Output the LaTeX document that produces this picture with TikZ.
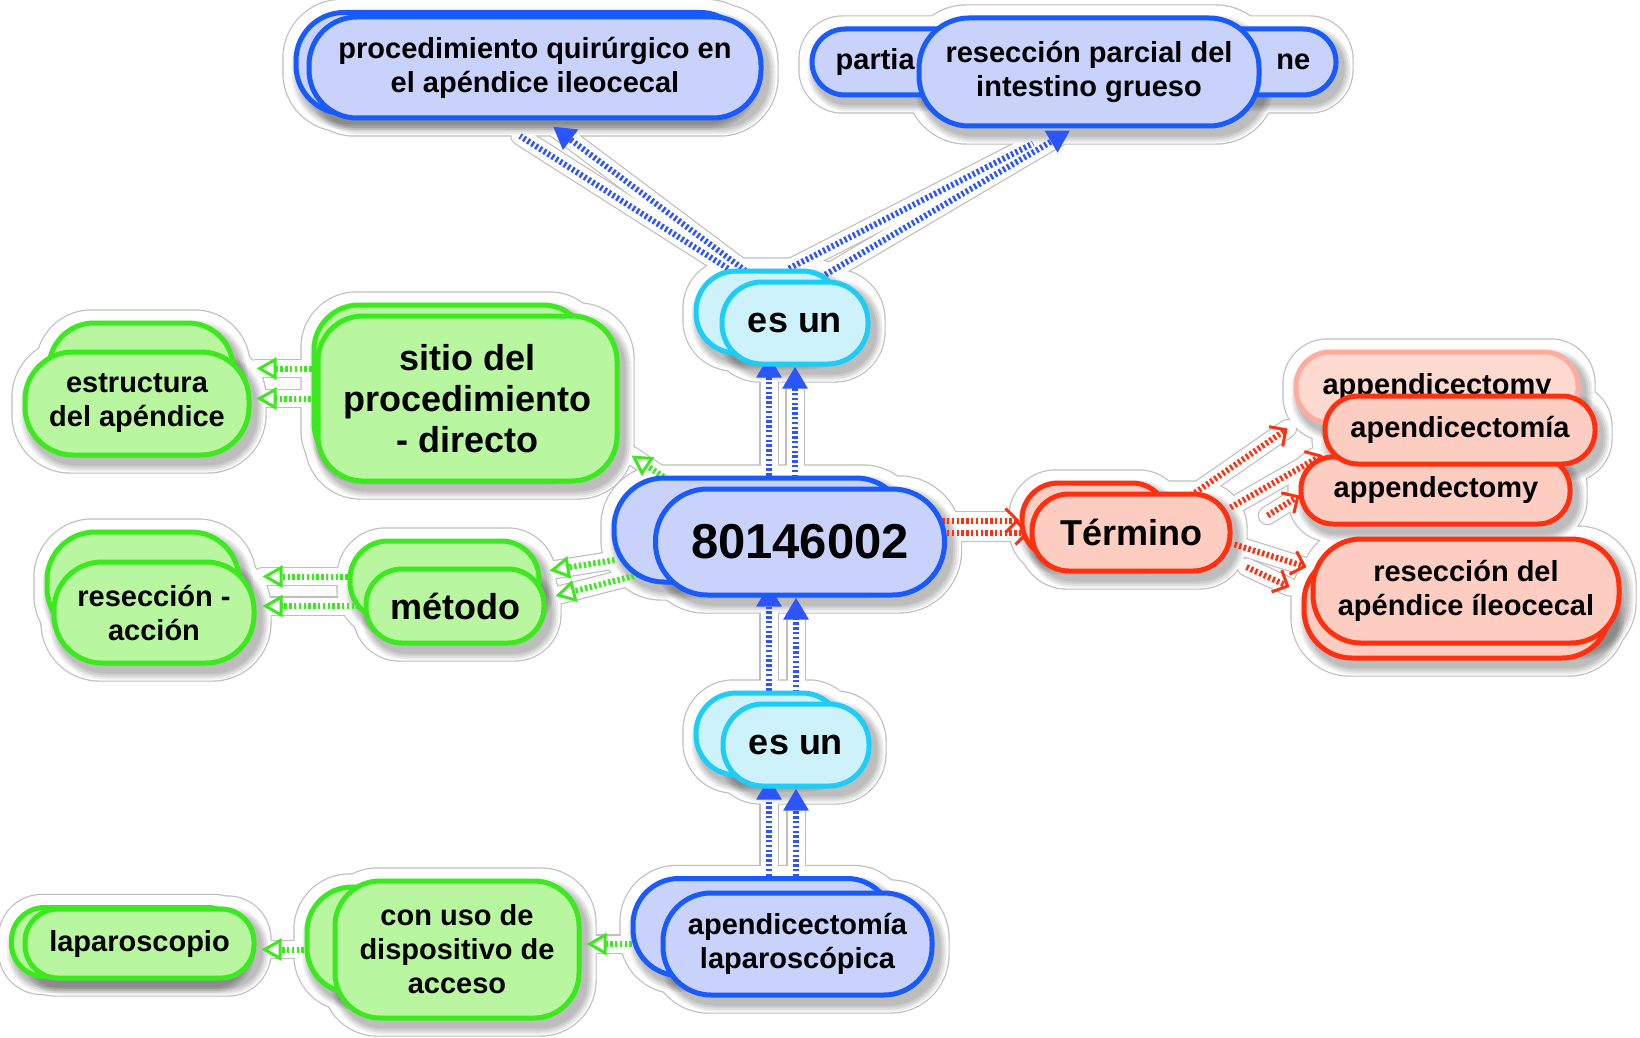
\documentclass[tikz,border=0pt]{standalone}
\usepackage{fontspec}
\setmainfont{Liberation Sans}
\usetikzlibrary{arrows.meta,calc}
\definecolor{cblue}{RGB}{25,90,250}
\definecolor{fblue}{RGB}{200,210,250}
\definecolor{ablue}{RGB}{45,85,255}
\definecolor{ccyan}{RGB}{30,205,245}
\definecolor{fcyan}{RGB}{205,242,252}
\definecolor{cgreen}{RGB}{60,232,30}
\definecolor{fgreen}{RGB}{185,246,160}
\definecolor{cred}{RGB}{255,48,16}
\definecolor{fred}{RGB}{252,205,192}
\definecolor{halogray}{RGB}{190,190,190}
\newcommand\fsA{\fontsize{29}{34}\selectfont}
\newcommand\fsB{\fontsize{36}{41}\selectfont}
\newcommand\fsC{\fontsize{49}{56}\selectfont}
\pgfdeclarelayer{haloA}
\pgfdeclarelayer{haloB}
\pgfdeclarelayer{shadows}
\pgfdeclarelayer{edges}
\pgfsetlayers{haloA,haloB,shadows,edges,main}
\newcommand\conn[3]{%
  \begin{pgfonlayer}{haloA}\draw[halogray,line width=19.4pt,line cap=round] #2 -- #3;\end{pgfonlayer}%
  \begin{pgfonlayer}{haloB}\draw[white,line width=17pt,line cap=round] #2 -- #3;\end{pgfonlayer}%
  \begin{pgfonlayer}{edges}\draw[#1] #2 -- #3;\end{pgfonlayer}}
\newcommand\halo[2]{%
  \begin{pgfonlayer}{haloA}\fill[halogray,rounded corners=#2+11.2] ($(#1.north west)+(-11.2,-11.2)$) rectangle ($(#1.south east)+(15.2,16.2)$);\end{pgfonlayer}%
  \begin{pgfonlayer}{haloB}\fill[white,rounded corners=#2+10] ($(#1.north west)+(-10,-10)$) rectangle ($(#1.south east)+(14,15)$);\end{pgfonlayer}%
  \begin{pgfonlayer}{shadows}\foreach \k in {1,2,3,4}{\fill[black,opacity=0.07,rounded corners=#2+2*\k] ($(#1.north west)+(6-2*\k,8-2*\k)$) rectangle ($(#1.south east)+(4+2*\k,6+2*\k)$);}\end{pgfonlayer}}
\begin{document}
\begin{tikzpicture}[x=1pt,y=-1pt,
  nd/.style={rounded corners=#1, line width=5pt, align=center, inner sep=0pt,
    font=\bfseries\fsA},
  nd/.default=40,
  bl/.style={draw=cblue, fill=fblue},
  cy/.style={draw=ccyan, fill=fcyan, font=\bfseries\fsB},
  gr/.style={draw=cgreen, fill=fgreen},
  rd/.style={draw=cred, fill=fred},
  txt/.style={inner sep=0pt, font=\bfseries\fsA},
  ec/.style={line width=6pt, dash pattern=on 2.4pt off 2.4pt},
  bconn/.style={ec, draw=ablue, -{Triangle[length=22pt,width=24pt]}},
  bline/.style={ec, draw=ablue},
  gconn/.style={ec, draw=cgreen, -{Triangle[open,length=20pt,width=22pt,line width=3pt]}},
  rconn/.style={ec, draw=cred, -{Straight Barb[length=12pt,width=24pt,line width=3pt]}}]
\useasboundingbox (0,0) rectangle (1640,1038);
\begin{pgfonlayer}{haloA}\fill[white] (0,0) rectangle (1640,1038);\end{pgfonlayer}

% ---- blue nodes
\node[nd=48,bl,minimum width=452,minimum height=101] (procG) at (522,63) {};
\node[nd=48,bl,minimum width=452,minimum height=101] (procF) at (535,67.5) {procedimiento quirúrgico en\\el apéndice ileocecal};
\node[nd=33,bl,minimum width=524,minimum height=66] (partB) at (1074,62) {};
\node[txt,anchor=west] (partBa) at ($(partB.west)+(26,0)$) {partia};
\node[txt,anchor=east] (partBb) at ($(partB.east)+(-28,0)$) {ne};
\node[nd=50,bl,minimum width=340,minimum height=108] (resF) at (1089,72) {resección parcial del\\intestino grueso};
\node[nd=50,bl,minimum width=292,minimum height=104] (mainG) at (760,530) {};
\node[nd=52,bl,minimum width=289,minimum height=106,font=\bfseries\fsC] (mainF) at (800,542) {80146002};
\node[nd=46,bl,minimum width=260,minimum height=97] (lapG) at (763,927) {};
\node[nd=48,bl,minimum width=269,minimum height=102] (lapF) at (797.5,944) {apendicectomía\\laparoscópica};

% ---- cyan nodes
\node[nd=40,cy,minimum width=146,minimum height=82] (es1G) at (769,312) {};
\node[nd=40,cy,minimum width=146,minimum height=82] (es1F) at (795,323) {es un};
\node[nd=40,cy,minimum width=146,minimum height=82] (es2G) at (769,734) {};
\node[nd=40,cy,minimum width=146,minimum height=82] (es2F) at (796,745) {es un};

% ---- green nodes
\node[nd=45,gr,minimum width=274,minimum height=163] (sitioG) at (451,386.5) {};
\node[nd=45,gr,minimum width=299,minimum height=165,font=\bfseries\fsB] (sitioF) at (467.5,398.5) {sitio del\\procedimiento\\- directo};
\node[nd=45,gr,minimum width=184,minimum height=105] (estrG) at (141,375.5) {};
\node[nd=48,gr,minimum width=224,minimum height=103] (estrF) at (137,403.5) {estructura\\del apéndice};
\node[nd=48,gr,minimum width=192,minimum height=104] (resaG) at (143,584) {};
\node[nd=48,gr,minimum width=200,minimum height=101] (resaF) at (154,612.5) {resección -\\acción};
\node[nd=38,gr,minimum width=189,minimum height=79] (metG) at (444.5,580.5) {};
\node[nd=36,gr,minimum width=178,minimum height=74,font=\bfseries\fsB] (metF) at (455,606) {método};
\node[nd=45,gr,minimum width=250,minimum height=106] (conG) at (432,940) {};
\node[nd=45,gr,minimum width=244,minimum height=137] (conF) at (457,949.5) {con uso de\\dispositivo de\\acceso};
\node[nd=33,gr,minimum width=229,minimum height=69] (lapaG) at (126,942) {};
\node[nd=33,gr,minimum width=229,minimum height=69] (lapaF) at (139.5,943.5) {laparoscopio};

% ---- red nodes
\node[nd=36,rd,minimum width=146,minimum height=75] (termG) at (1095,520.5) {};
\node[nd=37,rd,minimum width=198,minimum height=77,font=\bfseries\fsB] (termF) at (1131,532.5) {Término};
\node[nd=34,draw=cred!40,fill=fred!75,minimum width=282,minimum height=71] (appicB) at (1437,387.5) {};
\node[txt,anchor=base] (appicT) at (1437,394) {appendicectomy};
\node[nd=32,rd,minimum width=269,minimum height=67] (appB) at (1435.5,490.5) {};
\node[txt,anchor=base] (appBT) at (1436,497) {appendectomy};
\node[nd=33,rd,minimum width=270,minimum height=68] (apF) at (1460,430) {apendicectomía};
\node[nd=48,rd,minimum width=306,minimum height=104] (reseG) at (1457,606) {};
\node[nd=48,rd,minimum width=306,minimum height=104] (reseF) at (1466,591) {resección del\\apéndice íleocecal};

% ---- halos and shadows
\foreach \n/\r in {procG/48,procF/48,partB/33,resF/50,mainG/50,mainF/52,lapG/46,lapF/48,
  es1G/40,es1F/40,es2G/40,es2F/40,sitioG/45,sitioF/45,estrG/45,estrF/48,resaG/48,resaF/48,
  metG/38,metF/36,conG/45,conF/45,lapaG/33,lapaF/33,termG/36,termF/37,appicB/34,appB/32,
  apF/33,reseG/48,reseF/48}{\halo{\n}{\r}}

% ---- blue connectors
\conn{bconn}{(es1F.south |- mainF.north)}{(es1F.south)}
\conn{bconn}{(es1G.south |- mainG.north)}{(es1G.south)}
\conn{bconn}{($(es1F.north)+(-38,0)$)}{($(procF.south)+(18,6)$)}
\conn{bline}{($(es1G.north)+(-41,0)$)}{($(procG.south)+(-2,20)$)}
\conn{bconn}{($(es1F.north)+(22,0)$)}{($(resF.south)+(-19,2)$)}
\conn{bline}{($(es1G.north)+(20,0)$)}{($(resF.south)+(-56,15)$)}
\conn{bconn}{(es2F.south |- lapF.north)}{(es2F.south)}
\conn{bconn}{(es2G.south |- lapG.north)}{(es2G.south)}
\conn{bconn}{(es2F.north)}{(es2F.north |- mainF.south)}
\conn{bconn}{(es2G.north)}{(es2G.north |- mainG.south)}

% ---- green connectors
\conn{gconn}{($(mainG.north west)+(68,12)$)}{($(sitioF.south east)+(12,-28)$)}
\conn{gconn}{($(mainF.west)+(4,28)$)}{($(metF.east)+(9,-10)$)}
\conn{gconn}{($(mainG.west)+(3,30)$)}{($(metG.east)+(8,-10)$)}
\conn{gconn}{(sitioF.west)}{($(sitioF.west -| estrF.east)+(5,0)$)}
\conn{gconn}{($(sitioG.west)+(0,-18)$)}{($(sitioG.west -| estrF.east)+(5,-18)$)}
\conn{gconn}{(metF.west)}{($(metF.west -| resaF.east)+(6,0)$)}
\conn{gconn}{($(metG.west)+(0,-4)$)}{($(metG.west -| resaF.east)+(6,-4)$)}
\conn{gconn}{(lapF.west)}{($(lapF.west -| conF.east)+(5,0)$)}
\conn{gconn}{(conF.west)}{($(conF.west -| lapaF.east)+(5,0)$)}

% ---- red connectors
\conn{rconn}{(termF.west -| mainF.east)}{(termF.west)}
\conn{rconn}{(termG.west -| mainG.east)}{(termG.west)}
\conn{rconn}{($(termF.north)+(60,4)$)}{($(appicB.south west)+(-6,3)$)}
\conn{rconn}{($(termF.east)+(-2,-25)$)}{($(apF.west)+(0,25)$)}
\conn{rconn}{($(appB.west)+(-31,25)$)}{($(appB.west)+(1,5)$)}
\conn{rconn}{($(termF.east)+(2,12)$)}{($(reseF.west)+(-4,-24)$)}
\conn{rconn}{($(reseG.west)+(-55,-39)$)}{($(reseG.west)+(-12,-19)$)}
\end{tikzpicture}
\end{document}
